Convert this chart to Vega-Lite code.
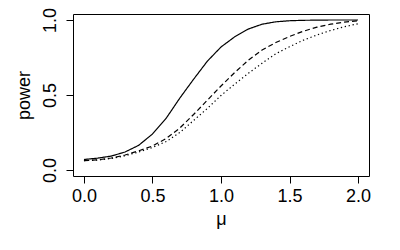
{
  "$schema": "https://vega.github.io/schema/vega-lite/v6.json",
  "autosize": "none",
  "width": 296,
  "height": 162,
  "padding": {"left": 73, "top": 14, "right": 31, "bottom": 74},
  "background": "white",
  "config": {
    "view": {"stroke": "black", "strokeWidth": 1},
    "font": "Liberation Sans",
    "axis": {
      "domain": false,
      "grid": false,
      "tickColor": "black",
      "tickSize": 7,
      "tickWidth": 1,
      "labelFont": "Liberation Sans",
      "labelFontSize": 18,
      "labelColor": "black",
      "titleFont": "Liberation Sans",
      "titleFontSize": 18,
      "titleFontWeight": "normal",
      "titleColor": "black"
    }
  },
  "data": {
    "values": [
      {"mu": 0.0, "power": 0.070, "series": "a"},
      {"mu": 0.1, "power": 0.079, "series": "a"},
      {"mu": 0.2, "power": 0.093, "series": "a"},
      {"mu": 0.3, "power": 0.120, "series": "a"},
      {"mu": 0.4, "power": 0.165, "series": "a"},
      {"mu": 0.5, "power": 0.240, "series": "a"},
      {"mu": 0.6, "power": 0.345, "series": "a"},
      {"mu": 0.7, "power": 0.480, "series": "a"},
      {"mu": 0.8, "power": 0.605, "series": "a"},
      {"mu": 0.9, "power": 0.725, "series": "a"},
      {"mu": 1.0, "power": 0.820, "series": "a"},
      {"mu": 1.1, "power": 0.888, "series": "a"},
      {"mu": 1.2, "power": 0.940, "series": "a"},
      {"mu": 1.3, "power": 0.972, "series": "a"},
      {"mu": 1.4, "power": 0.988, "series": "a"},
      {"mu": 1.5, "power": 0.995, "series": "a"},
      {"mu": 1.6, "power": 0.998, "series": "a"},
      {"mu": 1.7, "power": 0.999, "series": "a"},
      {"mu": 1.8, "power": 1.000, "series": "a"},
      {"mu": 1.9, "power": 1.000, "series": "a"},
      {"mu": 2.0, "power": 1.000, "series": "a"},
      {"mu": 0.0, "power": 0.062, "series": "b"},
      {"mu": 0.1, "power": 0.068, "series": "b"},
      {"mu": 0.2, "power": 0.080, "series": "b"},
      {"mu": 0.3, "power": 0.100, "series": "b"},
      {"mu": 0.4, "power": 0.128, "series": "b"},
      {"mu": 0.5, "power": 0.160, "series": "b"},
      {"mu": 0.6, "power": 0.210, "series": "b"},
      {"mu": 0.7, "power": 0.280, "series": "b"},
      {"mu": 0.8, "power": 0.370, "series": "b"},
      {"mu": 0.9, "power": 0.465, "series": "b"},
      {"mu": 1.0, "power": 0.560, "series": "b"},
      {"mu": 1.1, "power": 0.650, "series": "b"},
      {"mu": 1.2, "power": 0.732, "series": "b"},
      {"mu": 1.3, "power": 0.800, "series": "b"},
      {"mu": 1.4, "power": 0.850, "series": "b"},
      {"mu": 1.5, "power": 0.890, "series": "b"},
      {"mu": 1.6, "power": 0.925, "series": "b"},
      {"mu": 1.7, "power": 0.952, "series": "b"},
      {"mu": 1.8, "power": 0.972, "series": "b"},
      {"mu": 1.9, "power": 0.986, "series": "b"},
      {"mu": 2.0, "power": 0.995, "series": "b"},
      {"mu": 0.0, "power": 0.062, "series": "c"},
      {"mu": 0.1, "power": 0.066, "series": "c"},
      {"mu": 0.2, "power": 0.077, "series": "c"},
      {"mu": 0.3, "power": 0.095, "series": "c"},
      {"mu": 0.4, "power": 0.120, "series": "c"},
      {"mu": 0.5, "power": 0.150, "series": "c"},
      {"mu": 0.6, "power": 0.190, "series": "c"},
      {"mu": 0.7, "power": 0.250, "series": "c"},
      {"mu": 0.8, "power": 0.330, "series": "c"},
      {"mu": 0.9, "power": 0.410, "series": "c"},
      {"mu": 1.0, "power": 0.497, "series": "c"},
      {"mu": 1.1, "power": 0.572, "series": "c"},
      {"mu": 1.2, "power": 0.645, "series": "c"},
      {"mu": 1.3, "power": 0.712, "series": "c"},
      {"mu": 1.4, "power": 0.775, "series": "c"},
      {"mu": 1.5, "power": 0.822, "series": "c"},
      {"mu": 1.6, "power": 0.865, "series": "c"},
      {"mu": 1.7, "power": 0.900, "series": "c"},
      {"mu": 1.8, "power": 0.930, "series": "c"},
      {"mu": 1.9, "power": 0.955, "series": "c"},
      {"mu": 2.0, "power": 0.975, "series": "c"}
    ]
  },
  "mark": {"type": "line", "color": "black", "strokeWidth": 1.2, "clip": true},
  "encoding": {
    "x": {
      "field": "mu", "type": "quantitative", "title": "μ",
      "scale": {"domain": [-0.08, 2.08], "nice": false, "zero": false},
      "axis": {"values": [0, 0.5, 1, 1.5, 2], "format": ".1f", "labelPadding": 4, "titlePadding": 5}
    },
    "y": {
      "field": "power", "type": "quantitative", "title": "power",
      "scale": {"domain": [-0.04, 1.04], "nice": false, "zero": false},
      "axis": {"values": [0, 0.5, 1], "format": ".1f", "labelAngle": -90, "labelAlign": "center", "labelBaseline": "bottom", "labelPadding": 7, "titlePadding": 8}
    },
    "detail": {"field": "series"},
    "strokeDash": {
      "field": "series", "type": "nominal", "legend": null,
      "scale": {"domain": ["a", "b", "c"], "range": [[1, 0], [5, 3], [1.3, 2.7]]}
    }
  }
}
